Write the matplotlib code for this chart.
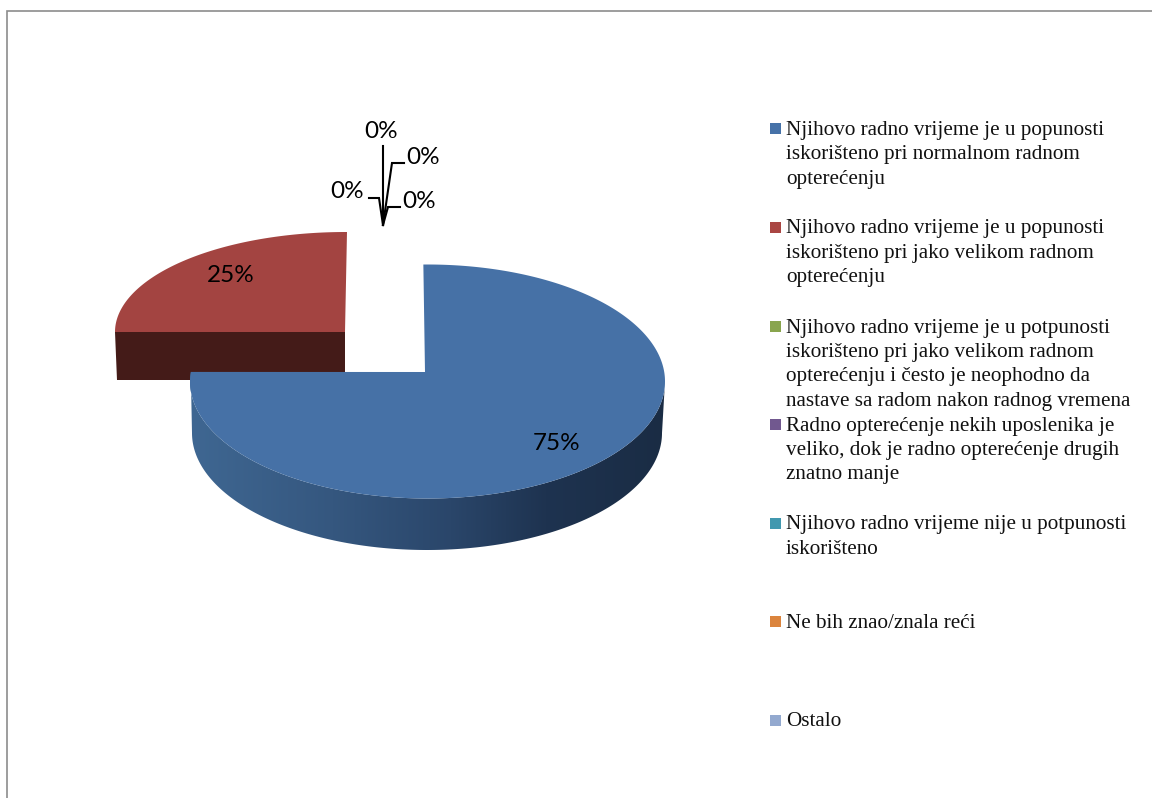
"""Pie chart with a fake 3D look: exploded slices, side walls and a text legend."""

import numpy as np
import matplotlib
matplotlib.use("Agg")
import matplotlib.pyplot as plt
from matplotlib.colors import to_rgb
from matplotlib.patches import Polygon, Rectangle

categories = [
    "Njihovo radno vrijeme je u popunosti\niskorišteno pri normalnom radnom\nopterećenju",
    "Njihovo radno vrijeme je u popunosti\niskorišteno pri jako velikom radnom\nopterećenju",
    "Njihovo radno vrijeme je u potpunosti\niskorišteno pri jako velikom radnom\nopterećenju i često je neophodno da\nnastave sa radom nakon radnog vremena",
    "Radno opterećenje nekih uposlenika je\nveliko, dok je radno opterećenje drugih\nznatno manje",
    "Njihovo radno vrijeme nije u potpunosti\niskorišteno",
    "Ne bih znao/znala reći",
    "Ostalo",
]
values = [75, 25, 0, 0, 0, 0, 0]
colors = ["#4672A8", "#AA4643", "#89A54E", "#71588F", "#4198AF", "#DB843D", "#93A9CF"]
zero_labels = ["0%", "0%", "0%", "0%"]

LABEL_FONT = ["Lato", "DejaVu Sans"]
LEGEND_FONT = ["Liberation Serif", "DejaVu Serif"]


def arc(cx, cy, rx, ry, start, end, n=200):
    t = np.radians(np.linspace(start, end, n))
    return np.column_stack([cx + rx * np.cos(t), cy - ry * np.sin(t)])


fig = plt.figure(figsize=(11.52, 7.98), dpi=100)
ax = fig.add_axes([0, 0, 1, 1])
ax.axis("off")

# page frame, only top and left are visible
ax.plot([6.5, 6.5, 1152], [798, 10.5, 10.5], color="#8c8c8c", lw=1.2, solid_joinstyle="miter")

# red slice: top face and front wall
red_sweep = values[1] / 100 * 360
red_top = arc(346, 332, 231, 100, 90, 90 + red_sweep)
ax.add_patch(Polygon(np.vstack([[[347, 232]], red_top, [[345, 332]]]), fc="#A34441", ec="none", zorder=2))
ax.add_patch(Polygon([[115, 332], [345, 332], [345, 380], [117, 380]], fc="#441B18", ec="none", zorder=2))

# blue slice: wall is a horizontal gradient clipped to the wall outline
blue_sweep = values[0] / 100 * 360
wall_top = arc(427.5, 381.5, 237.5, 117, 175.3, 360, 260)
wall_bot = arc(427, 433, 235, 117, 180, 360, 260)
shade_at = [0, 0.3, 0.55, 0.75, 1]
shade = np.array([to_rgb(c) for c in ["#3F6792", "#35577F", "#2A466A", "#1E3350", "#1A2C44"]])
xs_f = np.linspace(0, 1, 256)
grad = np.stack([np.interp(xs_f, shade_at, shade[:, k]) for k in range(3)], axis=-1)[None, :, :]
wall_img = ax.imshow(grad, extent=(190, 665, 560, 370), aspect="auto", zorder=3)
wall_clip = Polygon(np.vstack([wall_top, wall_bot[::-1]]), transform=ax.transData, fc="none", ec="none")
ax.add_patch(wall_clip)
wall_img.set_clip_path(wall_clip)

# starts 1 degree left of vertical, the extra 4.7 brings the cut edge level with the apex
blue_top = arc(427.5, 381.5, 237.5, 117, 91, 91 - blue_sweep - 5.7, 400)
ax.add_patch(Polygon(np.vstack([blue_top, [[425, 372]]]), fc="#4671A6", ec="none", zorder=4))

# value labels on the slices
ax.text(230.5, 276, f"{values[1]}%", family=LABEL_FONT, fontsize=17.5, ha="center", va="center", zorder=6)
ax.text(557, 444, f"{values[0]}%", family=LABEL_FONT, fontsize=17.5, ha="center", va="center", zorder=6)

# leader lines for the empty slices, all meeting in one point
tip = (383, 225)
label_xy = [(381, 132), (423, 158), (347, 192), (419, 202)]
leaders = [
    [(383, 146)],
    [(404, 163), (392, 163)],
    [(369, 198), (379, 198)],
    [(400, 207), (388, 207)],
]
for txt, xy, pts in zip(zero_labels, label_xy, leaders):
    xs = [p[0] for p in pts] + [tip[0]]
    ys = [p[1] for p in pts] + [tip[1]]
    ax.plot(xs, ys, color="black", lw=1.5, zorder=5, solid_joinstyle="miter")
    ax.text(xy[0], xy[1], txt, family=LABEL_FONT, fontsize=17.5, ha="center", va="center", zorder=6)

# legend is placed by hand since entries sit on a fixed grid
legend_y = [128.5, 227, 326, 424, 523, 621, 720]
for name, col, y in zip(categories, colors, legend_y):
    ax.add_patch(Rectangle((770, y - 5.5), 11, 11, fc=col, ec="none"))
    ax.text(786, y - 7.5, name, family=LEGEND_FONT, fontsize=15.25, ha="left", va="top",
            linespacing=1.39, color="#111111")

# limits go last, imshow resets them
ax.set_xlim(0, 1152)
ax.set_ylim(798, 0)

fig.savefig("out.png", dpi=100)
